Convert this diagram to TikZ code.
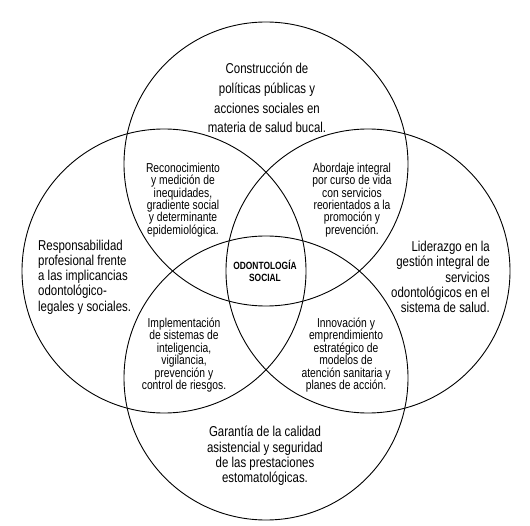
\documentclass[tikz,border=0pt]{standalone}
\usepackage{fontspec}
\setmainfont{Liberation Sans}[FakeStretch=0.8]
\begin{document}
\begin{tikzpicture}[x=1pt,y=-1pt,
  ring/.style={circle,draw=black,line width=0.9pt,minimum size=284pt,inner sep=0pt},
  biglab/.style={inner sep=0pt,font=\fontsize{14.3}{15.3}\selectfont},
  toplab/.style={inner sep=0pt,align=center,font=\fontsize{14.3}{19.8}\selectfont},
  midlab/.style={inner sep=0pt,align=center,font=\fontsize{12.9}{12.4}\selectfont},
  corelab/.style={inner sep=0pt,align=center,font=\fontsize{10.5}{11.5}\selectfont\bfseries}]
\useasboundingbox (0,0) rectangle (530,526);
\node[ring] (ctop) at (266,164) {};
\node[ring] (cbot) at (266,378) {};
\node[ring] (cleft) at (164,271) {};
\node[ring] (cright) at (368,271) {};
\node[toplab] (ltop) at (267,98) {Construcción de\\políticas públicas y\\acciones sociales en\\materia de salud bucal.};
\node[biglab,align=left,anchor=west] (lleft) at (38,277) {Responsabilidad\\profesional frente\\a las implicancias\\odontológico-\\legales y sociales.};
\node[biglab,align=right,anchor=east] (lright) at (490,277) {Liderazgo en la\\gestión integral de\\servicios\\odontológicos en el\\sistema de salud.};
\node[biglab,align=center] (lbot) at (265,456) {Garantía de la calidad\\asistencial y seguridad\\de las prestaciones\\estomatológicas.};
\node[midlab] (ltl) at (183,200) {Reconocimiento\\y medición de\\inequidades,\\gradiente social\\y determinante\\epidemiológica.};
\node[midlab] (ltr) at (352,200) {Abordaje integral\\por curso de vida\\con servicios\\reorientados a la\\promoción y\\prevención.};
\node[midlab] (lbl) at (184,355) {Implementación\\de sistemas de\\inteligencia,\\vigilancia,\\prevención y\\control de riesgos.};
\node[midlab] (lbr) at (346,355) {Innovación y\\emprendimiento\\estratégico de\\modelos de\\atención sanitaria y\\planes de acción.};
\node[corelab] (core) at (265,271) {ODONTOLOGÍA\\SOCIAL};
\end{tikzpicture}
\end{document}
